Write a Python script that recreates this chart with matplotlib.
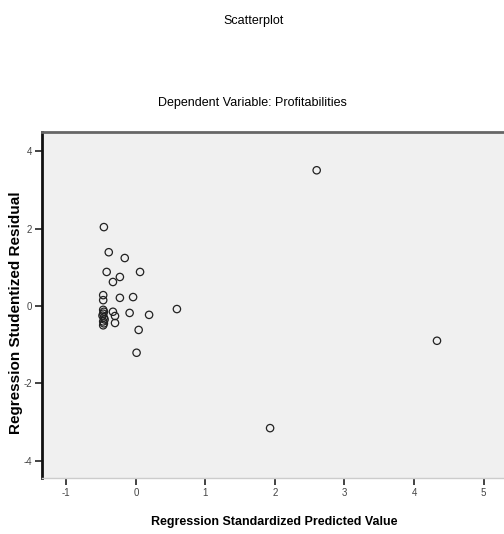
import matplotlib
matplotlib.use("Agg")
import matplotlib.pyplot as plt

# Data
pred = [-0.46, -0.39, -0.16, -0.42, 0.06, -0.23, -0.33, -0.47, -0.47, -0.23,
        -0.04, -0.33, -0.30, -0.30, -0.09, 0.19, 0.59, 0.04, 0.01,
        -0.47, -0.47, -0.46, -0.47, -0.45, -0.48, -0.46, -0.47, -0.46,
        2.60, 4.33, 1.93]
resid = [2.04, 1.39, 1.24, 0.88, 0.88, 0.75, 0.62, 0.28, 0.15, 0.21,
         0.23, -0.15, -0.26, -0.44, -0.18, -0.23, -0.08, -0.62, -1.21,
         -0.10, -0.20, -0.30, -0.40, -0.35, -0.25, -0.15, -0.50, -0.45,
         3.51, -0.90, -3.16]
xticks = [-1, 0, 1, 2, 3, 4, 5]
yticks = [-4, -2, 0, 2, 4]

W, H = 504, 534
fig = plt.figure(figsize=(W / 100, H / 100), dpi=100)
fam = ['Liberation Sans', 'DejaVu Sans']

left, right, top, bottom = 42, 510, 132, 478
ax = fig.add_axes([left / W, 1 - bottom / H, (right - left) / W, (bottom - top) / H])
ax.set_facecolor('#f0f0f0')
ax.scatter(pred, resid, s=28, facecolors='none', edgecolors='#222222', linewidths=0.9, zorder=3)

ax.set_xlim(-1.35, 5.38)
ax.set_ylim(-4.45, 4.5)
ax.set_xticks(xticks)
ax.set_yticks(yticks)
ax.set_xticklabels([str(t) for t in xticks], fontsize=7, color='#444444', family=fam)
ax.set_yticklabels([str(t) for t in yticks], fontsize=7, color='#444444', family=fam)
ax.tick_params(axis='both', direction='out', length=5, width=1.2, color='#222222', pad=2)

ax.spines['left'].set_linewidth(2.0)
ax.spines['left'].set_color('#111111')
ax.spines['top'].set_linewidth(2.0)
ax.spines['top'].set_color('#666666')
ax.spines['bottom'].set_linewidth(1.0)
ax.spines['bottom'].set_color('#cccccc')
ax.spines['right'].set_visible(False)

fig.text(254 / W, 1 - 21 / H, 'Scatterplot', ha='center', va='center',
         fontsize=9, family=fam)
fig.text(252 / W, 1 - 103 / H, 'Dependent Variable: Profitabilities', ha='center',
         va='center', fontsize=9, family=fam)
fig.text(274 / W, 1 - 522 / H, 'Regression Standardized Predicted Value', ha='center',
         va='center', fontsize=9, family=fam, fontweight='bold')
fig.text(16 / W, 1 - 313 / H, 'Regression Studentized Residual', ha='center',
         va='center', rotation=90, fontsize=11, family=fam, fontweight='bold')

fig.savefig('out.png', dpi=100)
